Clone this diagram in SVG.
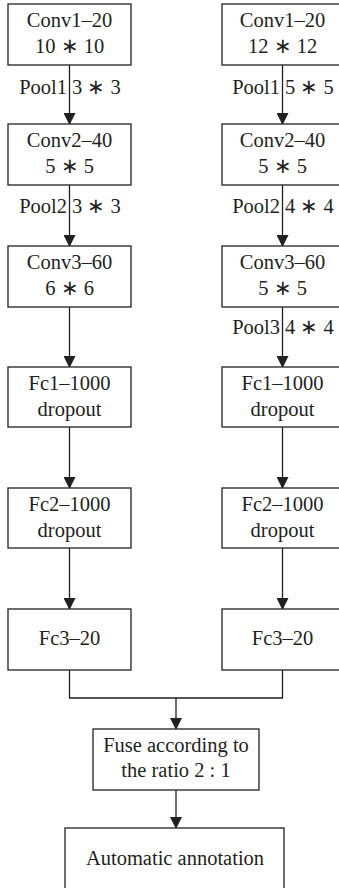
<svg xmlns="http://www.w3.org/2000/svg" width="339" height="888" viewBox="0 0 339 888">
  <style>
    .box { fill: #ffffff; stroke: #231f20; stroke-width: 1.3; }
    .edge { fill: none; stroke: #231f20; stroke-width: 1.3; }
    .c { text-anchor: middle; }
    .e { text-anchor: end; }
  </style>
  <defs>
    <marker id="arrow" viewBox="0 0 12 12" markerWidth="12" markerHeight="12" refX="11" refY="6" orient="auto" markerUnits="userSpaceOnUse">
      <path d="M0,0 L12,6 L0,12 Z" fill="#231f20"/>
    </marker>
  </defs>

  <g font-family="Liberation Serif, serif" font-size="20.5" fill="#231f20">
  <!-- connectors -->
  <g id="connectors">
    <line class="edge" x1="69.5" y1="65" x2="69.5" y2="124" marker-end="url(#arrow)"/>
    <line class="edge" x1="69.5" y1="185" x2="69.5" y2="246" marker-end="url(#arrow)"/>
    <line class="edge" x1="69.5" y1="307" x2="69.5" y2="367" marker-end="url(#arrow)"/>
    <line class="edge" x1="69.5" y1="427" x2="69.5" y2="488" marker-end="url(#arrow)"/>
    <line class="edge" x1="69.5" y1="548" x2="69.5" y2="609" marker-end="url(#arrow)"/>

    <line class="edge" x1="282.5" y1="65" x2="282.5" y2="124" marker-end="url(#arrow)"/>
    <line class="edge" x1="282.5" y1="185" x2="282.5" y2="246" marker-end="url(#arrow)"/>
    <line class="edge" x1="282.5" y1="307" x2="282.5" y2="367" marker-end="url(#arrow)"/>
    <line class="edge" x1="282.5" y1="427" x2="282.5" y2="488" marker-end="url(#arrow)"/>
    <line class="edge" x1="282.5" y1="548" x2="282.5" y2="609" marker-end="url(#arrow)"/>

    <polyline class="edge" points="69.5,670 69.5,698 282.5,698 282.5,670"/>
    <line class="edge" x1="176" y1="698" x2="176" y2="729" marker-end="url(#arrow)"/>
    <line class="edge" x1="176" y1="790" x2="176" y2="828" marker-end="url(#arrow)"/>

    <!-- pooling labels beside the connectors -->
    <text class="e" x="67" y="94">Pool1</text><text x="72" y="94">3 ∗ 3</text>
    <text class="e" x="67" y="213">Pool2</text><text x="72" y="213">3 ∗ 3</text>
    <text class="e" x="280" y="94">Pool1</text><text x="285" y="94">5 ∗ 5</text>
    <text class="e" x="280" y="213">Pool2</text><text x="285" y="213">4 ∗ 4</text>
    <text class="e" x="280" y="334">Pool3</text><text x="285" y="334">4 ∗ 4</text>
  </g>

  <!-- left branch -->
  <g id="L-conv1">
    <rect class="box" x="8" y="4" width="123" height="61"/>
    <text class="c" x="69.5" y="27">Conv1–20</text>
    <text class="c" x="69.5" y="53">10 ∗ 10</text>
  </g>
  <g id="L-conv2">
    <rect class="box" x="8" y="124" width="123" height="61"/>
    <text class="c" x="69.5" y="147">Conv2–40</text>
    <text class="c" x="69.5" y="173">5 ∗ 5</text>
  </g>
  <g id="L-conv3">
    <rect class="box" x="8" y="246" width="123" height="61"/>
    <text class="c" x="69.5" y="269">Conv3–60</text>
    <text class="c" x="69.5" y="295">6 ∗ 6</text>
  </g>
  <g id="L-fc1">
    <rect class="box" x="8" y="367" width="123" height="60"/>
    <text class="c" x="69.5" y="390">Fc1–1000</text>
    <text class="c" x="69.5" y="416">dropout</text>
  </g>
  <g id="L-fc2">
    <rect class="box" x="8" y="488" width="123" height="60"/>
    <text class="c" x="69.5" y="511">Fc2–1000</text>
    <text class="c" x="69.5" y="537">dropout</text>
  </g>
  <g id="L-fc3">
    <rect class="box" x="8" y="609" width="123" height="61"/>
    <text class="c" x="69.5" y="645">Fc3–20</text>
  </g>

  <!-- right branch -->
  <g id="R-conv1">
    <rect class="box" x="222" y="4" width="123" height="61"/>
    <text class="c" x="282.5" y="27">Conv1–20</text>
    <text class="c" x="282.5" y="53">12 ∗ 12</text>
  </g>
  <g id="R-conv2">
    <rect class="box" x="222" y="124" width="123" height="61"/>
    <text class="c" x="282.5" y="147">Conv2–40</text>
    <text class="c" x="282.5" y="173">5 ∗ 5</text>
  </g>
  <g id="R-conv3">
    <rect class="box" x="222" y="246" width="123" height="61"/>
    <text class="c" x="282.5" y="269">Conv3–60</text>
    <text class="c" x="282.5" y="295">5 ∗ 5</text>
  </g>
  <g id="R-fc1">
    <rect class="box" x="222" y="367" width="123" height="60"/>
    <text class="c" x="282.5" y="390">Fc1–1000</text>
    <text class="c" x="282.5" y="416">dropout</text>
  </g>
  <g id="R-fc2">
    <rect class="box" x="222" y="488" width="123" height="60"/>
    <text class="c" x="282.5" y="511">Fc2–1000</text>
    <text class="c" x="282.5" y="537">dropout</text>
  </g>
  <g id="R-fc3">
    <rect class="box" x="222" y="609" width="123" height="61"/>
    <text class="c" x="282.5" y="645">Fc3–20</text>
  </g>

  <!-- fusion and output -->
  <g id="fuse">
    <rect class="box" x="93" y="729" width="166" height="61"/>
    <text class="c" x="176" y="752">Fuse according to</text>
    <text class="c" x="176" y="777">the ratio 2 : 1</text>
  </g>
  <g id="annotation">
    <rect class="box" x="65" y="828" width="219" height="80"/>
    <text class="c" x="175" y="865">Automatic annotation</text>
  </g>
  </g>
</svg>
